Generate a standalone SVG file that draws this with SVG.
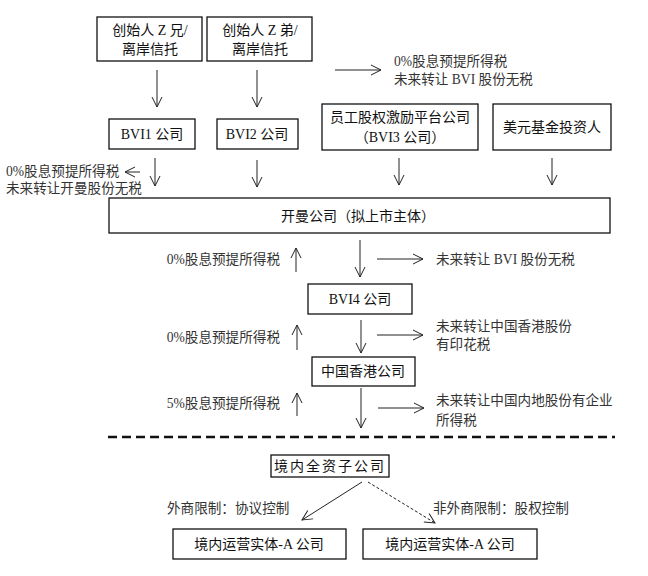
<svg xmlns="http://www.w3.org/2000/svg" width="648" height="576" viewBox="0 0 648 576">
<style>
.box{fill:#fff;stroke:#111;stroke-width:1.3}
.t{font-family:"Liberation Serif","Noto Sans CJK SC",serif;font-size:14px;fill:#111;text-anchor:middle}
.l{font-family:"Liberation Serif","Noto Sans CJK SC",serif;font-size:13.6px;fill:#333}
.c{stroke:#222;stroke-width:1;fill:none;marker-end:url(#ah)}
</style>
<defs>
<marker id="ah" markerUnits="userSpaceOnUse" markerWidth="12" markerHeight="12" refX="10" refY="5" orient="auto" overflow="visible">
<path d="M0,0 L10,5 L0,10" fill="none" stroke="#222" stroke-width="1"/>
</marker>
</defs>
<rect width="648" height="576" fill="#fff"/>
<g id="n_zxiong"><rect class="box" x="97" y="17" width="105" height="44"/><text class="t" x="150" y="35">创始人 Z 兄/</text><text class="t" x="150" y="54">离岸信托</text></g>
<g id="n_zdi"><rect class="box" x="207" y="17" width="105" height="44"/><text class="t" x="260" y="35">创始人 Z 弟/</text><text class="t" x="260" y="54">离岸信托</text></g>
<g id="n_bvi1"><rect class="box" x="109" y="119" width="86" height="30"/><text class="t" x="152" y="139">BVI1 公司</text></g>
<g id="n_bvi2"><rect class="box" x="217" y="119" width="81" height="30"/><text class="t" x="257" y="139">BVI2 公司</text></g>
<g id="n_bvi3"><rect class="box" x="322" y="104" width="156" height="46"/><text class="t" x="400" y="122">员工股权激励平台公司</text><text class="t" x="400" y="142">（BVI3 公司）</text></g>
<g id="n_usd"><rect class="box" x="493" y="104" width="118" height="46"/><text class="t" x="552" y="132">美元基金投资人</text></g>
<g id="n_cayman"><rect class="box" x="109" y="198" width="501" height="35"/><text class="t" x="358" y="221">开曼公司（拟上市主体）</text></g>
<g id="n_bvi4"><rect class="box" x="308" y="284" width="104" height="30"/><text class="t" x="360" y="304">BVI4 公司</text></g>
<g id="n_hk"><rect class="box" x="312" y="357" width="103" height="29"/><text class="t" x="363" y="376">中国香港公司</text></g>
<g id="n_wfoe"><rect class="box" x="271" y="455" width="118" height="22"/><text class="t" x="330" y="471" letter-spacing="2">境内全资子公司</text></g>
<g id="n_opA1"><rect class="box" x="173" y="529" width="173" height="30"/><text class="t" x="259" y="549">境内运营实体-A 公司</text></g>
<g id="n_opA2"><rect class="box" x="363" y="529" width="174" height="30"/><text class="t" x="450" y="549">境内运营实体-A 公司</text></g>
<g id="labels">
<text class="l" x="394" y="66">0%股息预提所得税</text>
<text class="l" x="394" y="84">未来转让 BVI 股份无税</text>
<text class="l" x="6" y="176">0%股息预提所得税</text>
<text class="l" x="6" y="193">未来转让开曼股份无税</text>
<text class="l" x="280" y="264" text-anchor="end">0%股息预提所得税</text>
<text class="l" x="436" y="264">未来转让 BVI 股份无税</text>
<text class="l" x="280" y="342" text-anchor="end">0%股息预提所得税</text>
<text class="l" x="436" y="331">未来转让中国香港股份</text>
<text class="l" x="436" y="349">有印花税</text>
<text class="l" x="280" y="408" text-anchor="end">5%股息预提所得税</text>
<text class="l" x="436" y="405">未来转让中国内地股份有企业</text>
<text class="l" x="436" y="425">所得税</text>
<text class="l" x="167" y="513">外商限制：协议控制</text>
<text class="l" x="433" y="513">非外商限制：股权控制</text>
</g>
<g id="connectors">
<line class="c" x1="157" y1="70" x2="157" y2="107"/>
<line class="c" x1="257" y1="70" x2="257" y2="107"/>
<line class="c" x1="335" y1="70" x2="381" y2="70"/>
<line class="c" x1="155" y1="158" x2="155" y2="186"/>
<line class="c" x1="140" y1="172" x2="125" y2="172"/>
<line class="c" x1="257" y1="160" x2="257" y2="187"/>
<line class="c" x1="399" y1="158" x2="399" y2="185"/>
<line class="c" x1="552" y1="158" x2="552" y2="185"/>
<line class="c" x1="296" y1="272" x2="296" y2="248"/>
<line class="c" x1="360" y1="240" x2="360" y2="277"/>
<line class="c" x1="377" y1="259" x2="423" y2="259"/>
<line class="c" x1="297" y1="350" x2="297" y2="325"/>
<line class="c" x1="361" y1="320" x2="361" y2="353"/>
<line class="c" x1="377" y1="335" x2="423" y2="335"/>
<line class="c" x1="297" y1="416" x2="297" y2="393"/>
<line class="c" x1="361" y1="388" x2="361" y2="428"/>
<line class="c" x1="378" y1="408" x2="424" y2="408"/>
<line x1="108" y1="437" x2="615" y2="437" stroke="#111" stroke-width="2.5" stroke-dasharray="9,5"/>
<line class="c" x1="362" y1="482" x2="302" y2="520"/>
<line class="c" x1="368" y1="482" x2="435" y2="523" stroke-dasharray="3,2"/>
</g>
</svg>
